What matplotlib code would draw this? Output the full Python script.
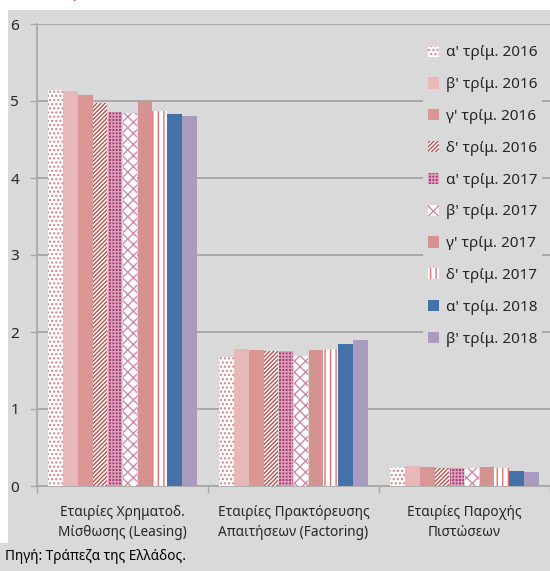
import numpy as np
import matplotlib
matplotlib.use("Agg")
import matplotlib.pyplot as plt
from matplotlib.patches import Rectangle

plt.rcParams['font.family'] = ['Noto Sans', 'DejaVu Sans']
plt.rcParams['hatch.linewidth'] = 1.0

# Δεδομένα
kathgories = ['Εταιρίες Χρηματοδ.\nΜίσθωσης (Leasing)',
              'Εταιρίες Πρακτόρευσης\nΑπαιτήσεων (Factoring)',
              'Εταιρίες Παροχής\nΠιστώσεων']
trimina = ["α' τρίμ. 2016", "β' τρίμ. 2016", "γ' τρίμ. 2016", "δ' τρίμ. 2016",
           "α' τρίμ. 2017", "β' τρίμ. 2017", "γ' τρίμ. 2017", "δ' τρίμ. 2017",
           "α' τρίμ. 2018", "β' τρίμ. 2018"]
leasing = [5.14, 5.13, 5.08, 4.97, 4.86, 4.84, 5.00, 4.87, 4.83, 4.81]
factoring = [1.67, 1.78, 1.76, 1.75, 1.75, 1.69, 1.76, 1.78, 1.84, 1.90]
pistoseis = [0.25, 0.26, 0.25, 0.23, 0.23, 0.24, 0.25, 0.23, 0.20, 0.18]

# στυλ για κάθε σειρά: (χρώμα γεμίσματος, hatch, χρώμα hatch)
styl = [('white', '....', '#d08080'),
        ('#e6b8b7', None, '#e6b8b7'),
        ('#da9694', None, '#da9694'),
        ('white', '////////', '#b6504c'),
        ('#a33a6b', '+++++', '#dca0bd'),
        ('white', 'xxx', '#d089a8'),
        ('#d49392', None, '#d49392'),
        ('white', '|||', '#e07272'),
        ('#4472a8', None, '#4472a8'),
        ('#a99bbd', None, '#a99bbd')]

gkri = '#d9d9d9'
fig = plt.figure(figsize=(5.5, 5.71), dpi=100, facecolor=gkri)
# λευκές λωρίδες πάνω και αριστερά
fig.patches.append(Rectangle((0, 1 - 10/571), 1, 10/571, transform=fig.transFigure,
                             facecolor='white', edgecolor='none', zorder=0))
fig.patches.append(Rectangle((0, 28/571), 8/550, 1 - 28/571, transform=fig.transFigure,
                             facecolor='white', edgecolor='none', zorder=0))

ax = fig.add_axes([37/550, 1 - 486/571, 1 - 37/550, (486 - 24)/571])
ax.set_facecolor(gkri)

x = np.arange(len(kathgories))
w = 0.087
for i, lbl in enumerate(trimina):
    vals = [leasing[i], factoring[i], pistoseis[i]]
    fc, h, hc = styl[i]
    ax.bar(x + (i - 4.5) * w, vals, width=w * 0.97, color=fc, hatch=h,
           edgecolor=hc, linewidth=0, label=lbl, zorder=3)

ax.set_ylim(0, 6)
ax.set_xlim(-0.5, 2.43)
ax.set_yticks(range(7))
ax.yaxis.grid(True, color='#a0a0a0', linewidth=1.2, zorder=0)
ax.set_axisbelow(True)

ax.set_xticks(x)
ax.set_xticklabels(kathgories, fontsize=9.8, color='#262626', linespacing=1.45)
ax.set_xticks([-0.5, 0.5, 1.5, 2.5], minor=True)
ax.tick_params(axis='x', which='major', length=0, pad=14)
ax.tick_params(axis='x', which='minor', length=5, color='#a6a6a6', width=1)
ax.tick_params(axis='y', length=5, color='#a6a6a6', width=1, labelsize=11,
               labelcolor='#262626', pad=8)

for s in ['top', 'right']:
    ax.spines[s].set_visible(False)
ax.spines['left'].set_color('#a6a6a6')
ax.spines['bottom'].set_color('#a6a6a6')
ax.spines['left'].set_linewidth(1.2)
ax.spines['bottom'].set_linewidth(1.2)

leg = ax.legend(loc='upper right', bbox_to_anchor=(1.0, 0.98), frameon=True,
                fontsize=11, handlelength=0.75, handleheight=0.75,
                handletextpad=0.45, labelspacing=1.1, borderpad=0.3)
leg.get_frame().set_facecolor(gkri)
leg.get_frame().set_edgecolor('none')
leg.get_frame().set_alpha(1)
for t in leg.get_texts():
    t.set_color('#262626')

# υπότιτλος κομμένος στην κορυφή, φαίνεται μόνο το κάτω μέρος
fig.text(5/550, 1 + 3/571, '(δισεκ. ευρώ)', color='#b0306e', fontsize=11,
         va='baseline', ha='left')
fig.text(5/550, 1 - 557/571, 'Πηγή: Τράπεζα της Ελλάδος.', color='black',
         fontsize=9.8, va='center', ha='left')

fig.savefig('out.png', dpi=100, facecolor=fig.get_facecolor())
